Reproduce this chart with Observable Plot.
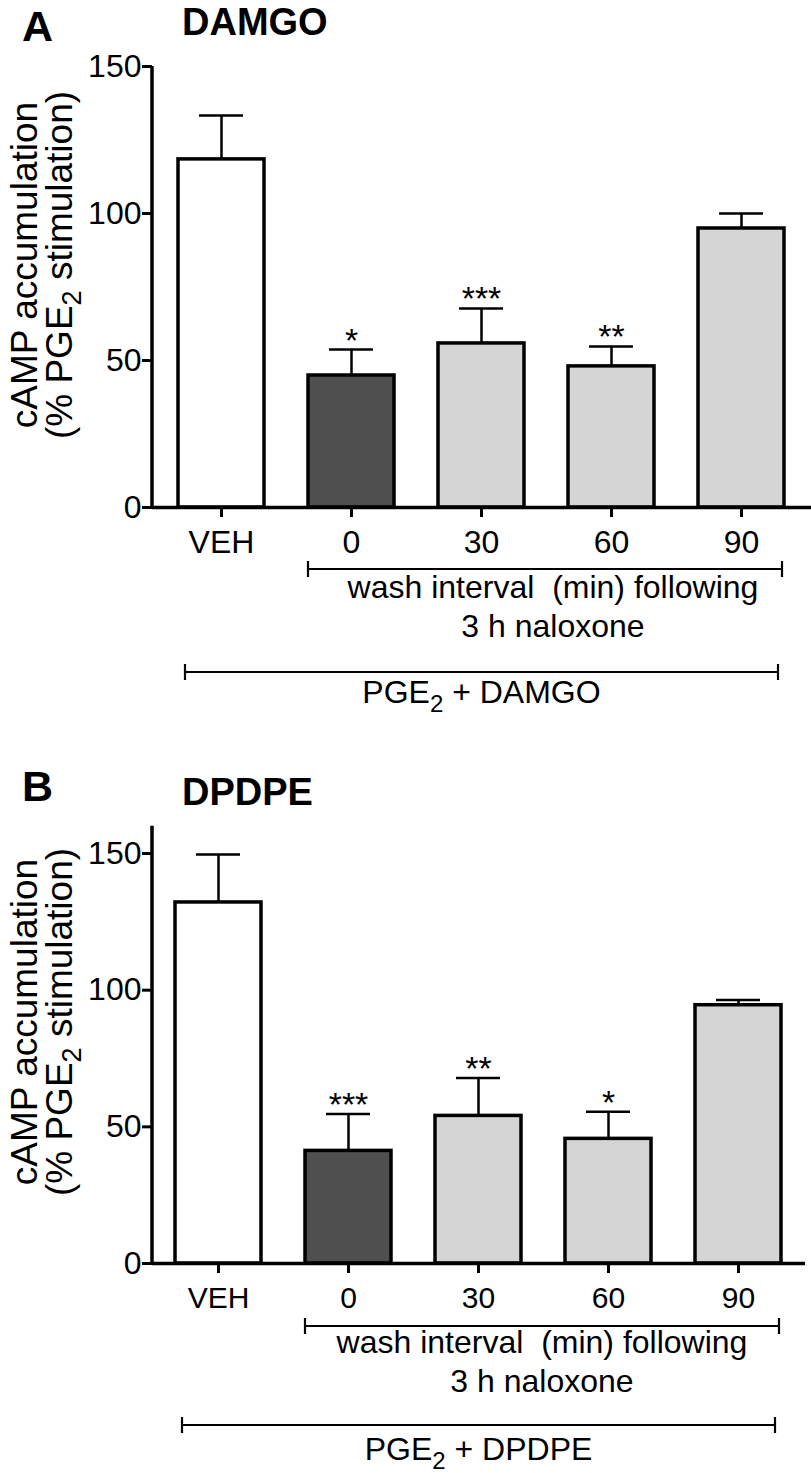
<!DOCTYPE html>
<html>
<head>
<meta charset="utf-8">
<script src="https://cdn.jsdelivr.net/npm/d3@7"></script>
<script src="https://cdn.jsdelivr.net/npm/@observablehq/plot@0.6"></script>
<style>
  body { margin: 0; background: #fff; }
  #chart { width: 811px; }
  #chart svg { display: block; }
</style>
</head>
<body>
<div id="chart"></div>
<script>
// ---- data ----
const categories = ["VEH", "0", "30", "60", "90"];
const damgoMean = [118.4, 44.9, 55.8, 48.0, 94.9];
const damgoSEM = [14.9, 8.8, 11.9, 6.8, 5.1];
const damgoStars = ["", "*", "***", "**", ""];
const dpdpeMean = [132.1, 41.2, 54.0, 45.6, 94.5];
const dpdpeSEM = [17.5, 13.5, 13.9, 9.9, 1.9];
const dpdpeStars = ["", "***", "**", "*", ""];
const barFills = ["#ffffff", "#4f4f4f", "#d5d5d5", "#d5d5d5", "#d5d5d5"];
const yTicks = [0, 50, 100, 150];
const yLabel1 = "cAMP accumulation";
const washLabel1 = "wash interval  (min) following";
const washLabel2 = "3 h naloxone";

const FONT = "'Liberation Sans', Arial, Helvetica, sans-serif";

function panel(cfg) {
  const data = categories.map((c, i) => ({
    cat: c, mean: cfg.mean[i], upper: cfg.mean[i] + cfg.sem[i], stars: cfg.stars[i], fill: barFills[i]
  }));
  const plot = Plot.plot({
    width: 811,
    height: cfg.height,
    marginTop: cfg.marginTop,
    marginBottom: cfg.marginBottom,
    marginLeft: 152,
    marginRight: cfg.marginRight,
    style: { fontFamily: FONT, fontSize: cfg.tickFont + "px", color: "#000", background: "#fff", overflow: "visible" },
    x: { domain: categories, paddingInner: 0.337, paddingOuter: cfg.paddingOuter },
    y: { domain: [0, cfg.yMax] },
    marks: [
      Plot.ruleX(data, { x: "cat", y1: "mean", y2: "upper", stroke: "#000", strokeWidth: 2.5 }),
      Plot.tickY(data, { x: "cat", y: "upper", insetLeft: 21, insetRight: 21, stroke: "#000", strokeWidth: 2.5 }),
      Plot.barY(data, { x: "cat", y: "mean", fill: "fill", stroke: "#000", strokeWidth: 3.5 }),
      Plot.text(data, { x: "cat", y: "upper", text: "stars", lineAnchor: "bottom", dy: 2, fontSize: 34, fill: "#000" }),
      Plot.ruleY([0], { stroke: "#000", strokeWidth: 3.5 }),
      Plot.axisX({ tickSize: 10, tickPadding: 13, strokeWidth: 3, label: null, fontSize: cfg.tickFont }),
      Plot.axisY({ ticks: yTicks, tickSize: 10, tickPadding: 1, strokeWidth: 3, label: null, fontSize: 32 })
    ]
  });

  const svg = d3.select(plot);
  const x = plot.scale("x"), y = plot.scale("y");
  const bw = x.bandwidth;
  const x0 = x.range[0];
  const y0 = y.apply(0);
  const g = svg.append("g").attr("font-family", FONT).attr("fill", "#000").attr("text-anchor", "start");

  // y axis line
  g.append("line").attr("x1", x0).attr("x2", x0)
    .attr("y1", y0 + 1.75).attr("y2", y.apply(cfg.yMax))
    .attr("stroke", "#000").attr("stroke-width", 3.5);

  // titles
  g.append("text").attr("x", 22).attr("y", cfg.letterY).attr("text-anchor", "start")
    .attr("font-size", 43).attr("font-weight", "bold").text(cfg.letter);
  g.append("text").attr("x", 182).attr("y", cfg.titleY).attr("text-anchor", "start")
    .attr("font-size", 38).attr("font-weight", "bold").text(cfg.title);

  // y label
  const yc = cfg.yLabelCenter;
  g.append("text").attr("transform", `translate(37,${yc}) rotate(-90)`)
    .attr("text-anchor", "middle").attr("font-size", 37).text(yLabel1);
  const t2 = g.append("text").attr("transform", `translate(72,${yc}) rotate(-90)`)
    .attr("text-anchor", "middle").attr("font-size", 37);
  t2.append("tspan").text("(% PGE");
  t2.append("tspan").attr("font-size", 27).attr("dy", 9).text("2");
  t2.append("tspan").attr("dy", -9).text(" stimulation)");

  // brackets
  function bracket(xa, xb, yy) {
    g.append("line").attr("x1", xa).attr("x2", xb).attr("y1", yy).attr("y2", yy)
      .attr("stroke", "#000").attr("stroke-width", 2.2);
    for (const xx of [xa, xb]) {
      g.append("line").attr("x1", xx).attr("x2", xx).attr("y1", yy - 8).attr("y2", yy + 8)
        .attr("stroke", "#000").attr("stroke-width", 2.2);
    }
  }
  const washA = x.apply("0"), washB = x.apply("90") + bw - 2;
  bracket(washA, washB, y0 + cfg.off.wash);
  const wc = (washA + washB) / 2 + cfg.washDx;
  g.append("text").attr("x", wc).attr("y", y0 + cfg.off.washText)
    .attr("text-anchor", "middle").attr("font-size", 32).style("white-space", "pre").text(washLabel1);
  g.append("text").attr("x", wc).attr("y", y0 + cfg.off.nalText)
    .attr("text-anchor", "middle").attr("font-size", 32).text(washLabel2);

  const pA = x.apply("VEH") + 7, pB = x.apply("90") + bw - 6;
  bracket(pA, pB, y0 + cfg.off.pge);
  const pt = g.append("text").attr("x", (pA + pB) / 2).attr("y", y0 + cfg.off.pgeText)
    .attr("text-anchor", "middle").attr("font-size", 32);
  pt.append("tspan").text("PGE");
  pt.append("tspan").attr("font-size", 24).attr("dy", 9).text("2");
  pt.append("tspan").attr("dy", -9).text(" + " + cfg.title);

  return plot;
}

const chart = document.getElementById("chart");
chart.append(panel({
  letter: "A", title: "DAMGO", letterY: 41, titleY: 35,
  mean: damgoMean, sem: damgoSEM, stars: damgoStars,
  height: 735, marginTop: 66, marginBottom: 228, marginRight: 0, paddingOuter: 0.187,
  yMax: 150, tickFont: 32, yLabelCenter: 265, washDx: 8,
  off: { wash: 62, washText: 91, nalText: 130, pge: 165, pgeText: 196 }
}));
chart.append(panel({
  letter: "B", title: "DPDPE", letterY: 66, titleY: 70,
  mean: dpdpeMean, sem: dpdpeSEM, stars: dpdpeStars,
  height: 738, marginTop: 90.7, marginBottom: 210, marginRight: 6, paddingOuter: 0.177,
  yMax: 160, tickFont: 30, yLabelCenter: 287, washDx: 0,
  off: { wash: 63, washText: 90, nalText: 129, pge: 162, pgeText: 197 }
}));
</script>
</body>
</html>
